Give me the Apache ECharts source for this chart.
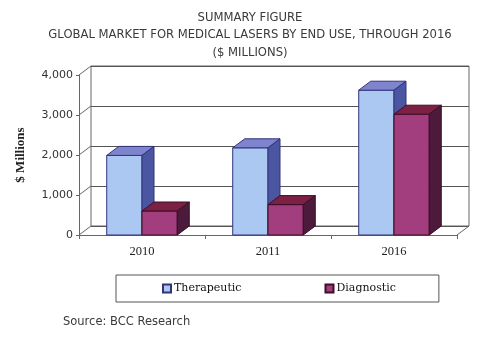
<!DOCTYPE html>
<html>
<head>
<meta charset="UTF-8">
<script src="https://cdn.jsdelivr.net/npm/echarts@6/dist/echarts.min.js"></script>
<style>
  html, body { margin: 0; padding: 0; background: #fff; }
  #chart { width: 500px; height: 352px; }
</style>
</head>
<body>
<div id="chart"></div>
<script type="text/javascript">
// data
var years = ['2010', '2011', '2016'];
var therapeutic = [1990, 2180, 3620];
var diagnostic = [600, 760, 3020];
var yTicks = [0, 1000, 2000, 3000, 4000];

// 3D look: depth offset of walls and bars
var DX = 12, DY = -9;

var serif = '"Liberation Serif", "DejaVu Serif", serif';
var sans = '"DejaVu Sans", Verdana, sans-serif';

// draws one box (front, top and side faces)
function boxRenderer(side, colors) {
	return function (params, api) {
		var cat = api.value(0);
		var val = api.value(1);
		var top = api.coord([cat, val]);
		var base = api.coord([cat, 0]);
		var band = api.size([1, 0])[0];
		var w = band * 0.28;
		var x = side < 0 ? top[0] - w : top[0];
		var ty = top[1], by = base[1];
		var stroke = { stroke: colors.line, lineWidth: 1 };
		return {
			type: 'group',
			children: [{
				type: 'rect',
				shape: { x: x, y: ty, width: w, height: by - ty },
				style: Object.assign({ fill: colors.front }, stroke)
			}, {
				type: 'polygon',
				shape: { points: [[x, ty], [x + w, ty], [x + w + DX, ty + DY], [x + DX, ty + DY]] },
				style: Object.assign({ fill: colors.top }, stroke)
			}, {
				type: 'polygon',
				shape: { points: [[x + w, ty], [x + w + DX, ty + DY], [x + w + DX, by + DY], [x + w, by]] },
				style: Object.assign({ fill: colors.side }, stroke)
			}]
		};
	};
}

var blue = { front: '#abc8f3', top: '#7f84cf', side: '#4b56a3', line: '#33337a' };
var plum = { front: '#a23d7e', top: '#7c2144', side: '#4c1a3a', line: '#3d0e26' };

var chart = echarts.init(document.getElementById('chart'));
chart.setOption({
	animation: false,
	backgroundColor: '#fff',
	title: [{
		text: 'SUMMARY FIGURE\nGLOBAL MARKET FOR MEDICAL LASERS BY END USE, THROUGH 2016\n($ MILLIONS)',
		left: 'center',
		top: 4,
		textStyle: { fontFamily: sans, fontSize: 11.6, fontWeight: 'normal', color: '#3a3a3a', lineHeight: 17.5 }
	}, {
		text: 'Source: BCC Research',
		left: 58,
		top: 311,
		textStyle: { fontFamily: sans, fontSize: 11.5, fontWeight: 'normal', color: '#3a3a3a' }
	}],
	legend: {
		data: ['Therapeutic', 'Diagnostic'],
		left: 116,
		top: 275,
		padding: [8, 43, 8, 46],
		itemGap: 83,
		itemWidth: 8,
		itemHeight: 8,
		icon: 'rect',
		borderColor: '#555',
		borderWidth: 1,
		textStyle: { fontFamily: '"DejaVu Serif", serif', fontSize: 11, color: '#111', padding: [0, 0, 0, -2] }
	},
	grid: [
		// back wall
		{ left: 91, right: 31, top: 66, bottom: 126, show: true, borderColor: '#666', borderWidth: 1, backgroundColor: '#fff' },
		// front plane
		{ left: 79, right: 43, top: 75, bottom: 117 }
	],
	xAxis: [{
		gridIndex: 0, type: 'category', data: years, show: false
	}, {
		gridIndex: 1, type: 'category', data: years,
		axisLine: { lineStyle: { color: '#666' } },
		axisTick: { show: true, length: 4, lineStyle: { color: '#666' } },
		axisLabel: { fontFamily: serif, fontSize: 12.5, color: '#222', margin: 10 }
	}],
	yAxis: [{
		gridIndex: 0, type: 'value', min: 0, max: 4000, interval: 1000,
		axisLine: { show: false }, axisTick: { show: false }, axisLabel: { show: false },
		splitLine: { lineStyle: { color: '#555' } }
	}, {
		gridIndex: 1, type: 'value', min: 0, max: 4000, interval: 1000,
		name: '$ Millions',
		nameLocation: 'middle',
		nameGap: 52,
		nameTextStyle: { fontFamily: serif, fontSize: 13, fontWeight: 'bold', color: '#222' },
		axisLine: { show: true, lineStyle: { color: '#666' } },
		axisTick: { show: true, length: 3, lineStyle: { color: '#666' } },
		splitLine: { show: false },
		axisLabel: {
			fontFamily: sans, fontSize: 11, color: '#333', margin: 6,
			formatter: function (v) { return v.toLocaleString('en-US'); }
		}
	}],
	series: [{
		// side wall and floor edges
		type: 'custom',
		name: 'walls',
		xAxisIndex: 1, yAxisIndex: 1,
		silent: true,
		z: 1,
		data: yTicks.map(function (v) { return [0, v]; }),
		renderItem: function (params, api) {
			var cs = params.coordSys;
			var y = api.coord([0, api.value(1)])[1];
			var kids = [{
				type: 'line',
				shape: { x1: cs.x, y1: y, x2: cs.x + DX, y2: y + DY },
				style: { stroke: '#666', lineWidth: 1 }
			}];
			if (api.value(1) === 0) {
				kids.push({
					type: 'line',
					shape: { x1: cs.x + cs.width, y1: y, x2: cs.x + cs.width + DX, y2: y + DY },
					style: { stroke: '#666', lineWidth: 1 }
				});
			}
			return { type: 'group', children: kids };
		}
	}, {
		type: 'custom',
		name: 'Therapeutic',
		xAxisIndex: 1, yAxisIndex: 1,
		z: 3,
		itemStyle: { color: blue.front, borderColor: blue.line, borderWidth: 1 },
		data: therapeutic.map(function (v, i) { return [i, v]; }),
		renderItem: boxRenderer(-1, blue)
	}, {
		type: 'custom',
		name: 'Diagnostic',
		xAxisIndex: 1, yAxisIndex: 1,
		z: 4,
		itemStyle: { color: plum.front, borderColor: plum.line, borderWidth: 1 },
		data: diagnostic.map(function (v, i) { return [i, v]; }),
		renderItem: boxRenderer(1, plum)
	}]
});
</script>
</body>
</html>
